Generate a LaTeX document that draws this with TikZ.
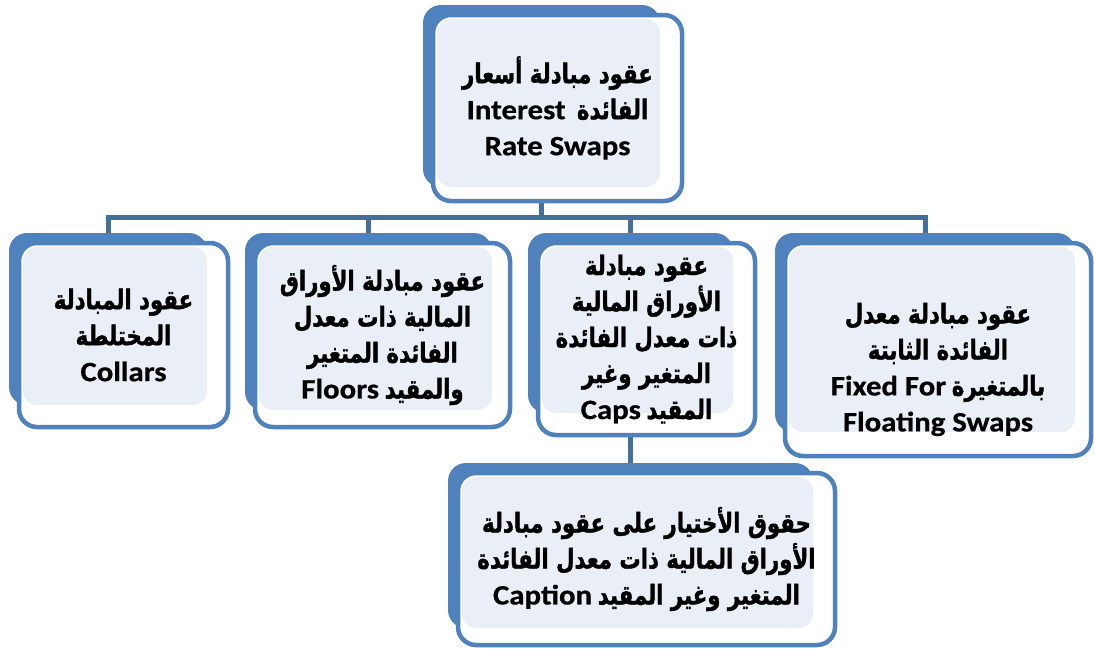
\documentclass[tikz,border=0pt]{standalone}
\usepackage{graphicx}
\usepackage{fontspec}
\setmainfont{Carlito}[BoldFeatures={FakeBold=0.6}]
\newfontface\arabicfont[Script=Arabic, FakeBold=1.6]{DejaVu Sans Bold}
\TeXXeTstate=1
\usetikzlibrary{backgrounds}
\definecolor{backblue}{HTML}{4F81BD}
\definecolor{paleblue}{HTML}{EAEFF7}
\definecolor{linkblue}{HTML}{41709F}
\newcommand{\ar}[1]{\scalebox{0.85}[1.08]{\arabicfont\beginR #1\endR}}
\newcommand{\en}[1]{\scalebox{1.1}[1]{\fontsize{28}{36}\selectfont #1}}
% name, back box (left, top, right, bottom), front box (right, bottom), text, text drop
\newcommand{\tierbox}[9]{%
   \node[backbox, minimum width={(#4-#2)*1pt}, minimum height={(#5-#3)*1pt}]
        (#1) at ({(#2+#4)/2},{(#3+#5)/2}) {};
   \draw[frontbox] (#2+10,#3+10) rectangle (#6,#7);
   \fill[palebox] (#2+14,#3+14) rectangle (#4,#5);
   \node[boxtext] at ({(#2+10+#6)/2},{(#3+10+#7)/2+#9}) {#8};
}

\begin{document}
\begin{tikzpicture}[x=1pt,y=-1pt,
   backbox/.style={fill=backblue, rounded corners=18pt, inner sep=0pt, outer sep=0pt},
   frontbox/.style={draw=backblue, fill=white, line width=4.5pt, rounded corners=18pt},
   palebox/.style={fill=paleblue, rounded corners=14pt},
   boxtext/.style={align=center, inner sep=0pt, font=\bfseries\fontsize{25}{36}\selectfont},
   link/.style={draw=linkblue, line width=5pt}]
   \useasboundingbox (0,0) rectangle (1094,648);
   \tierbox{swaps}{423}{5}{660}{187}{682}{201}
      {\ar{عقود مبادلة أسعار}\\ \en{Interest}\ \ \ar{الفائدة}\\ \en{Rate Swaps}}{0}
   \tierbox{collars}{9}{233}{207}{405}{228}{427}
      {\ar{عقود المبادلة}\\ \ar{المختلطة}\\ \en{Collars}}{0}
   \tierbox{floors}{245}{233}{492}{410}{510}{427}
      {\ar{عقود مبادلة الأوراق}\\ \ar{المالية ذات معدل}\\ \ar{الفائدة المتغير}\\ \en{Floors}\ \ar{والمقيد}}{0}
   \tierbox{caps}{528}{233}{733}{413}{755}{435}
      {\ar{عقود مبادلة}\\ \ar{الأوراق المالية}\\ \ar{ذات معدل الفائدة}\\ \ar{المتغير وغير}\\ \en{Caps}\ \ar{المقيد}}{0}
   \tierbox{fixfloat}{775}{233}{1075}{432}{1091}{456}
      {\ar{عقود مبادلة معدل}\\ \ar{الفائدة الثابتة}\\ \en{Fixed For}\ \ar{بالمتغيرة}\\ \en{Floating Swaps}}{20}
   \tierbox{caption}{448}{463}{813}{628}{835}{645}
      {\ar{حقوق الأختيار على عقود مبادلة}\\ \ar{الأوراق المالية ذات معدل الفائدة}\\ \en{Caption}\ \ar{المتغير وغير المقيد}}{0}
   \begin{pgfonlayer}{background}
      \draw[link] (swaps.south) -- ++(0,30) coordinate (hub);
      \draw[link] (collars.north) -- (collars.north |- hub) -- (fixfloat.north |- hub) -- (fixfloat.north);
      \draw[link] (floors.north) -- (floors.north |- hub);
      \draw[link] (caps.north) -- (caps.north |- hub);
      \draw[link] (caps.south) -- (caption.north);
   \end{pgfonlayer}
\end{tikzpicture}
\end{document}
